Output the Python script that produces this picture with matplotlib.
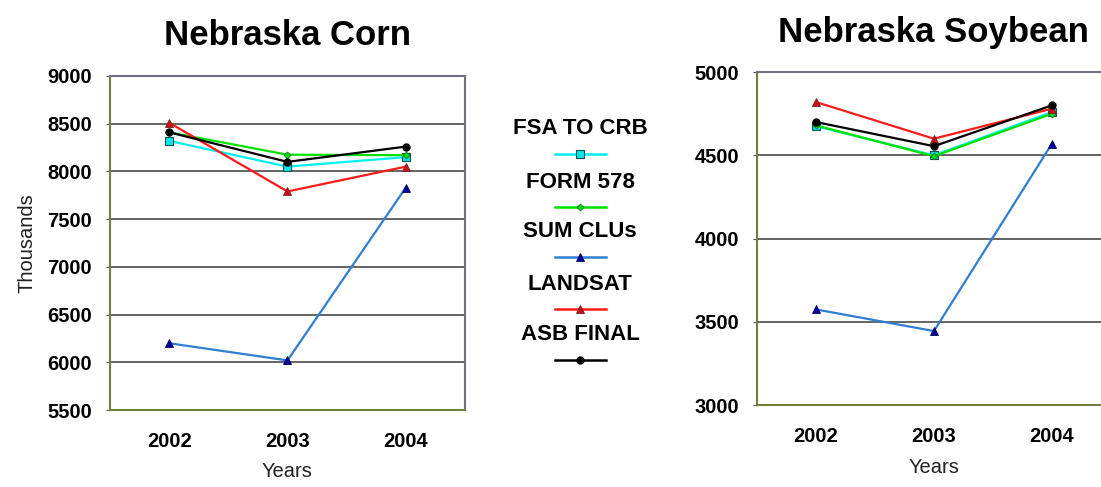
import matplotlib.pyplot as plt
from matplotlib.lines import Line2D

plt.rcParams['font.family'] = ['Liberation Sans', 'DejaVu Sans']

years = ['2002', '2003', '2004']
series_names = ['FSA TO CRB', 'FORM 578', 'SUM CLUs', 'LANDSAT', 'ASB FINAL']

# Nebraska corn acreage (thousands)
corn_fsa = [8320, 8050, 8150]
corn_form578 = [8410, 8175, 8170]
corn_clus = [6200, 6020, 7830]
corn_landsat = [8510, 7790, 8050]
corn_asb = [8410, 8100, 8260]

# Nebraska soybean acreage (thousands)
soy_fsa = [4675, 4500, 4760]
soy_form578 = [4680, 4495, 4750]
soy_clus = [3575, 3445, 4570]
soy_landsat = [4820, 4600, 4780]
soy_asb = [4700, 4555, 4800]

corn_ticks = [5500, 6000, 6500, 7000, 7500, 8000, 8500, 9000]
soy_ticks = [3000, 3500, 4000, 4500, 5000]

styles = [
    dict(color='#00f0f0', marker='s', markersize=6, markerfacecolor='#00e8e8',
         markeredgecolor='#105050', markeredgewidth=0.8),
    dict(color='#00e000', marker='D', markersize=3.5, markerfacecolor='#00e000',
         markeredgecolor='#207020', markeredgewidth=0.6),
    dict(color='#2f7fd0', marker='^', markersize=6, markerfacecolor='#0000a0',
         markeredgecolor='#000060', markeredgewidth=0.6),
    dict(color='#ff1a1a', marker='^', markersize=6, markerfacecolor='#d01010',
         markeredgecolor='#702020', markeredgewidth=0.6),
    dict(color='#000000', marker='o', markersize=5, markerfacecolor='#000000',
         markeredgecolor='#000000'),
]

fig = plt.figure(figsize=(11.01, 4.87), dpi=100)
fig.patch.set_facecolor('white')


def draw_panel(ax, data, ticks, title):
    x = range(len(years))
    for vals, st in zip(data, styles):
        ax.plot(x, vals, linewidth=1.6, zorder=3, **st)
    ax.set_xlim(-0.5, len(years) - 0.5)
    ax.set_ylim(ticks[0], ticks[-1])
    ax.set_xticks(list(x))
    ax.set_xticklabels(years, fontsize=14.5, fontweight='bold')
    ax.set_yticks(ticks)
    ax.set_yticklabels([str(t) for t in ticks], fontsize=14.5, fontweight='bold')
    ax.tick_params(axis='x', length=0, pad=16)
    ax.tick_params(axis='y', length=3, pad=10, color='#555555')
    ax.grid(True, axis='y', color='#4a4a4a', linewidth=1.2, zorder=1)
    ax.set_axisbelow(True)
    ax.spines['left'].set_color('#6f7f40')
    ax.spines['bottom'].set_color('#6f7f40')
    ax.spines['top'].set_color('#707080')
    ax.spines['right'].set_color('#707080')
    for s in ax.spines.values():
        s.set_linewidth(1.5)
    ax.set_title(title, fontsize=25, fontweight='bold', pad=22)
    ax.set_xlabel('Years', fontsize=14.5, labelpad=8, color='#222222')


ax1 = fig.add_axes([0.0999, 0.158, 0.3224, 0.686])
draw_panel(ax1, [corn_fsa, corn_form578, corn_clus, corn_landsat, corn_asb],
           corn_ticks, 'Nebraska Corn')
ax1.set_ylabel('Thousands', fontsize=14.5, labelpad=8, color='#222222')

ax2 = fig.add_axes([0.6875, 0.168, 0.3215, 0.684])
draw_panel(ax2, [soy_fsa, soy_form578, soy_clus, soy_landsat, soy_asb],
           soy_ticks, 'Nebraska Soybean')

# legend between the panels: each label sits above its line sample
label_y = [129, 182, 232, 284, 335]  # pixel rows from the top
for name, st, ly in zip(series_names, styles, label_y):
    fy = 1 - ly / 487
    fig.text(0.5268, fy, name, fontsize=16, fontweight='bold',
             ha='center', va='center')
    sy = 1 - (ly + 25) / 487
    fig.add_artist(Line2D([0.5045, 0.5268, 0.5504], [sy, sy, sy],
                          linewidth=1.8, transform=fig.transFigure,
                          markevery=[1], **st))

fig.savefig('out.png', dpi=100, facecolor='white')
